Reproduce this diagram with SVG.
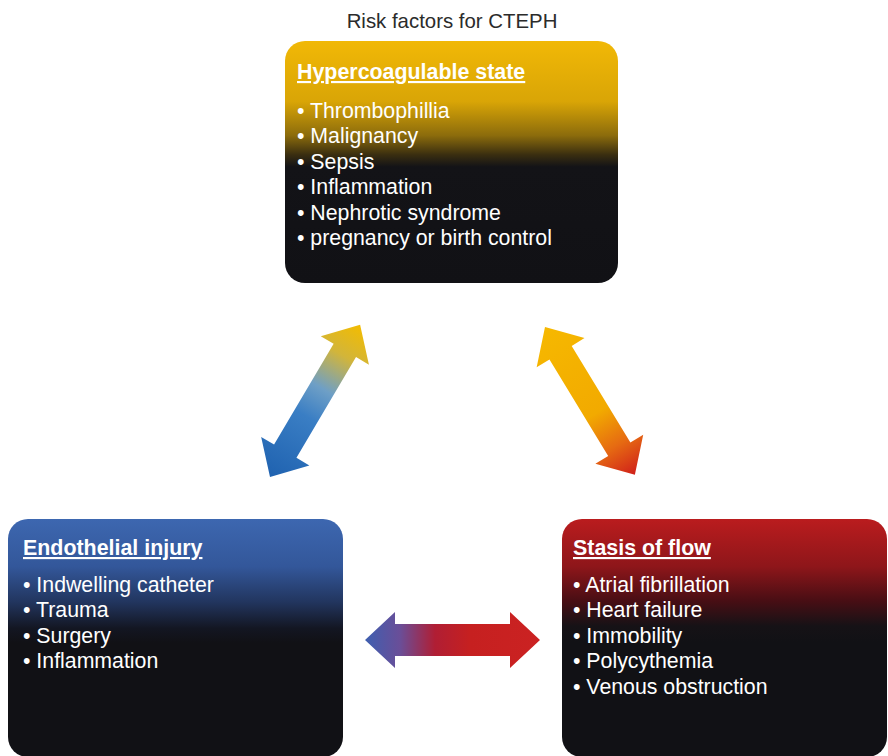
<svg xmlns="http://www.w3.org/2000/svg" width="888" height="756" viewBox="0 0 888 756">
  <style>
    .title { font-family: "Liberation Sans", Arial, sans-serif; font-size: 20.4px; fill: #2b2b2b; }
    .head { font-family: "Liberation Sans", Arial, sans-serif; font-size: 21.4px; font-weight: bold; fill: #ffffff; text-decoration: underline; }
    .item { font-family: "Liberation Sans", Arial, sans-serif; font-size: 21.3px; fill: #ffffff; }
  </style>
  <defs>
    <!-- box fills: coloured band at the top fading into near-black -->
    <linearGradient id="gGold" gradientUnits="userSpaceOnUse" x1="0" y1="41" x2="0" y2="283">
      <stop offset="0" stop-color="#F1B806"/>
      <stop offset="0.25" stop-color="#D9A506"/>
      <stop offset="0.39" stop-color="#8C6C0C"/>
      <stop offset="0.47" stop-color="#3A2E10"/>
      <stop offset="0.52" stop-color="#131317"/>
      <stop offset="1" stop-color="#111115"/>
    </linearGradient>
    <linearGradient id="gBlue" gradientUnits="userSpaceOnUse" x1="0" y1="519" x2="0" y2="757">
      <stop offset="0" stop-color="#3D67B0"/>
      <stop offset="0.2" stop-color="#33579A"/>
      <stop offset="0.35" stop-color="#22355E"/>
      <stop offset="0.46" stop-color="#131622"/>
      <stop offset="0.52" stop-color="#111115"/>
      <stop offset="1" stop-color="#111115"/>
    </linearGradient>
    <linearGradient id="gRed" gradientUnits="userSpaceOnUse" x1="0" y1="519" x2="0" y2="757">
      <stop offset="0" stop-color="#BA1C1E"/>
      <stop offset="0.2" stop-color="#8E161A"/>
      <stop offset="0.34" stop-color="#4A0E14"/>
      <stop offset="0.45" stop-color="#161216"/>
      <stop offset="0.52" stop-color="#111115"/>
      <stop offset="1" stop-color="#111115"/>
    </linearGradient>
    <!-- connector fills, laid out along the local x axis -->
    <linearGradient id="aBlueGold" x1="0" y1="0" x2="1" y2="0">
      <stop offset="0" stop-color="#1F62B0"/>
      <stop offset="0.4" stop-color="#3A7EC4"/>
      <stop offset="0.58" stop-color="#6E9FC6"/>
      <stop offset="0.8" stop-color="#D2B53A"/>
      <stop offset="1" stop-color="#F3BC00"/>
    </linearGradient>
    <linearGradient id="aGoldRed" x1="0" y1="0" x2="1" y2="0">
      <stop offset="0" stop-color="#F6B800"/>
      <stop offset="0.58" stop-color="#F2AA00"/>
      <stop offset="0.8" stop-color="#E66A12"/>
      <stop offset="1" stop-color="#D0201A"/>
    </linearGradient>
    <linearGradient id="aBlueRed" x1="0" y1="0" x2="1" y2="0">
      <stop offset="0" stop-color="#3E5FB0"/>
      <stop offset="0.2" stop-color="#6A4E98"/>
      <stop offset="0.4" stop-color="#B01E34"/>
      <stop offset="0.6" stop-color="#C62020"/>
      <stop offset="1" stop-color="#CB2222"/>
    </linearGradient>
  </defs>

  <rect width="888" height="756" fill="#ffffff"/>

  <text class="title" x="452" y="28" text-anchor="middle">Risk factors for CTEPH</text>

  <g id="hypercoagulable">
    <rect x="285" y="41" width="333" height="242" rx="20" ry="20" fill="url(#gGold)"/>
    <text class="head" x="297" y="79">Hypercoagulable state</text>
    <text class="item" x="297" y="118">• Thrombophillia</text>
    <text class="item" x="297" y="143">• Malignancy</text>
    <text class="item" x="297" y="169">• Sepsis</text>
    <text class="item" x="297" y="194">• Inflammation</text>
    <text class="item" x="297" y="220">• Nephrotic syndrome</text>
    <text class="item" x="297" y="245">• pregnancy or birth control</text>
  </g>

  <g id="endothelial">
    <rect x="8" y="519" width="335" height="238" rx="20" ry="20" fill="url(#gBlue)"/>
    <text class="head" x="23" y="555">Endothelial injury</text>
    <text class="item" x="23" y="592">• Indwelling catheter</text>
    <text class="item" x="23" y="617">• Trauma</text>
    <text class="item" x="23" y="643">• Surgery</text>
    <text class="item" x="23" y="668">• Inflammation</text>
  </g>

  <g id="stasis">
    <rect x="562" y="519" width="325" height="238" rx="20" ry="20" fill="url(#gRed)"/>
    <text class="head" x="573" y="555">Stasis of flow</text>
    <text class="item" x="573" y="592">• Atrial fibrillation</text>
    <text class="item" x="573" y="617">• Heart failure</text>
    <text class="item" x="573" y="643">• Immobility</text>
    <text class="item" x="573" y="668">• Polycythemia</text>
    <text class="item" x="573" y="694">• Venous obstruction</text>
  </g>

  <g id="connectors">
    <!-- endothelial <-> hypercoagulable -->
    <g transform="translate(270,477) rotate(-59.4)">
      <polygon points="0,0 30,-28 30,-13 147,-13 147,-28 177,0 147,28 147,13 30,13 30,28" fill="url(#aBlueGold)"/>
    </g>
    <!-- hypercoagulable <-> stasis -->
    <g transform="translate(545,327) rotate(58.7)">
      <polygon points="0,0 30,-28 30,-13 143,-13 143,-28 173,0 143,28 143,13 30,13 30,28" fill="url(#aGoldRed)"/>
    </g>
    <!-- endothelial <-> stasis -->
    <g transform="translate(365,640)">
      <polygon points="0,0 30,-28 30,-16 145,-16 145,-28 175,0 145,28 145,16 30,16 30,28" fill="url(#aBlueRed)"/>
    </g>
  </g>
</svg>
